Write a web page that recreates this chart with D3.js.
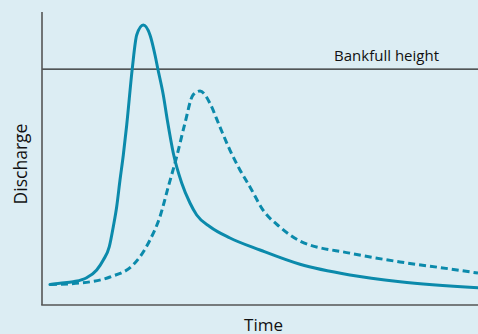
<!DOCTYPE html>
<html><head><meta charset="utf-8">
<script src="https://cdn.jsdelivr.net/npm/d3@7"></script>
<style>html,body{margin:0;padding:0;background:#dcedf3;}svg{display:block;}</style>
</head><body>
<script>
// Time (0..100) vs discharge (0..100), arbitrary units
const solidTime = [1.83,4.13,7.18,10.25,12.55,14.06,15.44,16.35,17.13,17.89,18.65,19.43,20.71,21.72,23.23,24.77,25.92,26.54,27.82,28.78,30.11,32.04,33.94,35.48,38.53,43.12,50.0,59.17,70.64,82.11,100];
const solidQ    = [7.00,7.41,7.95,9.32,11.95,15.36,19.90,26.72,33.55,42.66,51.19,61.43,80.78,92.15,95.56,92.15,85.32,80.78,71.67,62.80,51.88,41.64,34.81,30.72,26.72,22.87,18.77,13.89,10.24,7.95,5.90];
const dashTime  = [1.83,8.72,15.6,20.87,22.48,24.77,27.06,28.97,30.89,32.80,34.63,36.24,37.4,38.5,40.8,43.1,45.4,47.7,50.7,54.6,59.2,70.6,82.1,93.6,100];
const dashQ     = [7.00,7.51,9.56,13.65,16.48,22.18,30.14,40.38,50.61,62.12,71.67,73.04,71.7,68.9,60.8,52.9,46.1,40.3,32.4,26.6,21.8,17.7,14.7,12.3,10.9];
const bankfull = 80.5;
const xLabel = "Time", yLabel = "Discharge", bankLabel = "Bankfull height";

const W = 478, H = 334;
const svg = d3.select("body").append("svg").attr("width", W).attr("height", H);
svg.append("rect").attr("width", W).attr("height", H).attr("fill", "#dcedf3");

const x = d3.scaleLinear().domain([0, 100]).range([42, 478]);
const y = d3.scaleLinear().domain([0, 100]).range([305, 12]);

const color = "#0b8aab";
const line = d3.line().x(d => x(d[0])).y(d => y(d[1])).curve(d3.curveMonotoneX);

// bankfull line
svg.append("line").attr("x1", x(0)).attr("x2", x(100)).attr("y1", y(bankfull)).attr("y2", y(bankfull))
  .attr("stroke", "#222").attr("stroke-width", 1.2);
svg.append("text").attr("x", 439).attr("y", 60.5).attr("text-anchor", "end")
  .attr("font-family", "Open Sans, sans-serif").attr("font-size", 15).attr("fill", "#111").text(bankLabel);

svg.append("clipPath").attr("id", "c").append("rect").attr("x", 42).attr("y", 0).attr("width", 436).attr("height", 305);

svg.append("path").datum(dashTime.map((t, i) => [t, dashQ[i]]))
  .attr("d", line).attr("fill", "none").attr("stroke", color).attr("stroke-width", 3)
  .attr("stroke-dasharray", "7,4").attr("clip-path", "url(#c)");
svg.append("path").datum(solidTime.map((t, i) => [t, solidQ[i]]))
  .attr("d", line).attr("fill", "none").attr("stroke", color).attr("stroke-width", 3)
  .attr("stroke-linecap", "round").attr("stroke-linejoin", "round").attr("clip-path", "url(#c)");

// axes
svg.append("line").attr("x1", x(0)).attr("x2", x(0)).attr("y1", 12).attr("y2", y(0)).attr("stroke", "#555").attr("stroke-width", 1.6);
svg.append("line").attr("x1", x(0) - 0.8).attr("x2", x(100)).attr("y1", y(0)).attr("y2", y(0)).attr("stroke", "#555").attr("stroke-width", 1.6);

svg.append("text").attr("x", 263.5).attr("y", 330.5).attr("text-anchor", "middle")
  .attr("font-family", "Open Sans, sans-serif").attr("font-size", 17).attr("fill", "#111").text(xLabel);
svg.append("text").attr("transform", "translate(27.3,164) rotate(-90)").attr("text-anchor", "middle")
  .attr("font-family", "Open Sans, sans-serif").attr("font-size", 17.5).attr("fill", "#111").text(yLabel);
</script>
</body></html>
